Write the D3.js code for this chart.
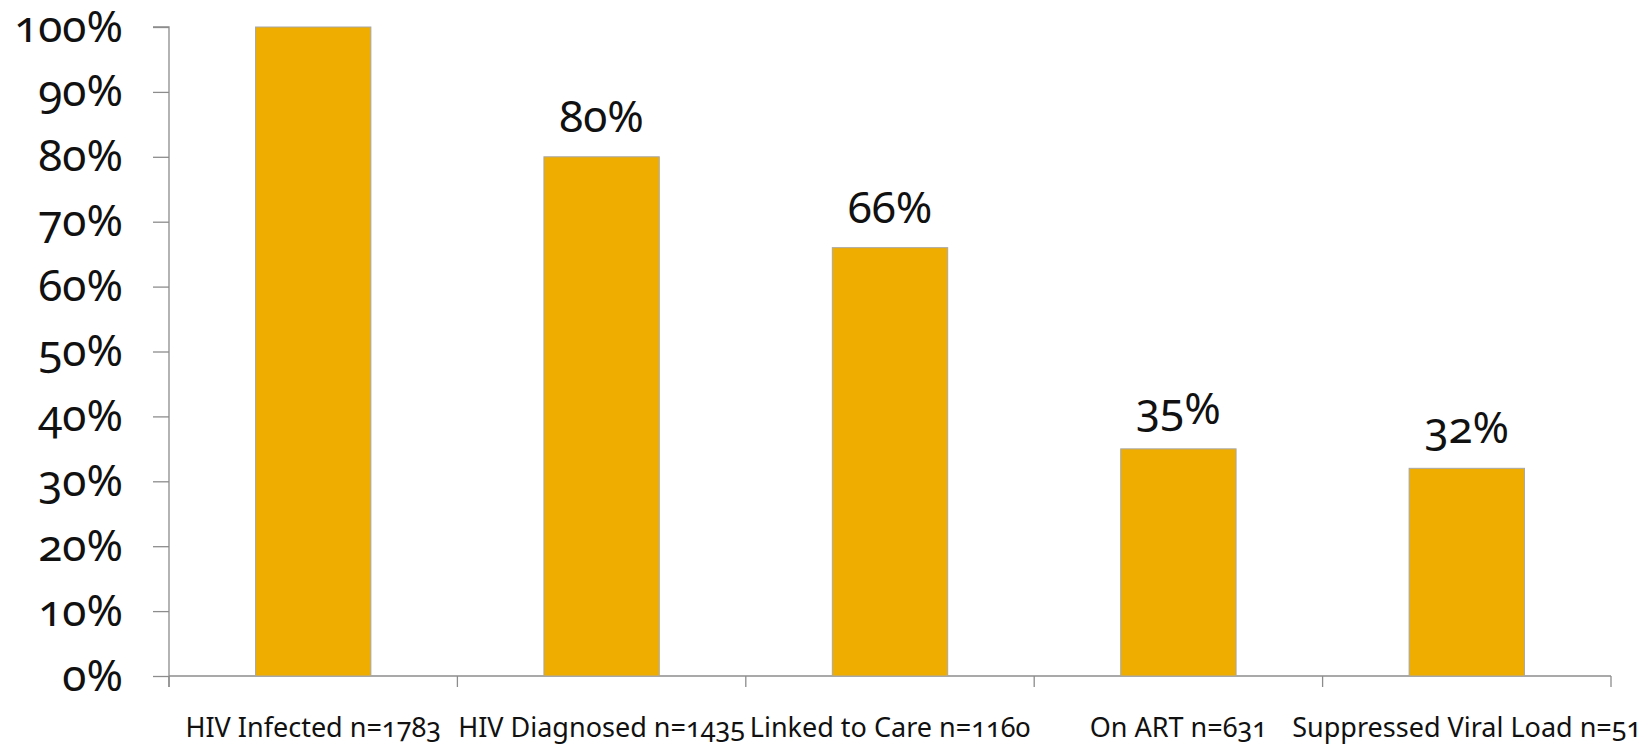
<!DOCTYPE html>
<html>
<head>
<meta charset="utf-8">
<script src="https://cdn.jsdelivr.net/npm/d3@7"></script>
<style>
  html, body { margin: 0; padding: 0; background: #fff; }
  svg { display: block; font-family: "Noto Sans", "Open Sans", sans-serif; font-feature-settings: "onum" 1; }
</style>
</head>
<body>
<svg id="chart" width="1649" height="744"></svg>
<script>
// HIV care cascade
const categories = ["HIV Infected n=1783", "HIV Diagnosed n=1435", "Linked to Care n=1160", "On ART n=631", "Suppressed Viral Load n=51"];
const shares = [1.00, 0.80, 0.66, 0.35, 0.32];
const labelled = [false, true, true, true, true];
const yTicks = [0, 0.1, 0.2, 0.3, 0.4, 0.5, 0.6, 0.7, 0.8, 0.9, 1.0];

const svg = d3.select("#chart");
const plotLeft = 169, plotRight = 1611, plotTop = 27, plotBottom = 676;
const fontStack = "'Noto Sans', 'Open Sans', sans-serif";

const x = d3.scaleBand().domain(categories).range([plotLeft, plotRight]).padding(0);
const y = d3.scaleLinear().domain([0, 1]).range([plotBottom, plotTop]);
const barW = x.bandwidth() * 0.4;
const axisColor = "#8c8c8c";

// value axis
const yAxis = svg.append("g")
  .attr("transform", `translate(${plotLeft},0)`)
  .call(d3.axisLeft(y).tickValues(yTicks).tickFormat(d3.format(".0%")).tickSize(16).tickPadding(30));
yAxis.attr("font-family", fontStack);
yAxis.select(".domain").attr("stroke", axisColor).attr("stroke-width", 1.3)
  .attr("d", `M-16,${plotTop}H0V${plotBottom + 11}`);
yAxis.selectAll(".tick line").attr("stroke", axisColor).attr("stroke-width", 1.3);
yAxis.selectAll(".tick text")
  .attr("fill", "#111").attr("font-size", 44).attr("dy", "0.32em");

// category axis
const xAxis = svg.append("g").attr("transform", `translate(0,${plotBottom})`);
xAxis.append("line").attr("x1", plotLeft).attr("x2", plotRight)
  .attr("stroke", axisColor).attr("stroke-width", 1.3);
const boundaries = categories.map(c => x(c)).concat([x(categories[categories.length - 1]) + x.bandwidth()]);
xAxis.selectAll("line.sep").data(boundaries).join("line")
  .attr("class", "sep")
  .attr("x1", d => d).attr("x2", d => d).attr("y1", 0).attr("y2", 11)
  .attr("stroke", axisColor).attr("stroke-width", 1.3);
xAxis.selectAll("text").data(categories).join("text")
  .attr("x", d => x(d) + x.bandwidth() / 2)
  .attr("y", 61)
  .attr("text-anchor", "middle")
  .attr("font-size", 27)
  .attr("fill", "#111")
  .text(d => d);

// bars
svg.append("g").selectAll("rect").data(categories).join("rect")
  .attr("x", d => x(d) + (x.bandwidth() - barW) / 2)
  .attr("y", (d, i) => y(shares[i]))
  .attr("width", barW)
  .attr("height", (d, i) => y(0) - y(shares[i]))
  .attr("fill", "#efad00")
  .attr("stroke", "#a8a8a8")
  .attr("stroke-width", 1);

// value labels
svg.append("g").selectAll("text").data(categories.filter((d, i) => labelled[i])).join("text")
  .attr("x", d => x(d) + x.bandwidth() / 2)
  .attr("y", d => y(shares[categories.indexOf(d)]) - 25)
  .attr("text-anchor", "middle")
  .attr("font-size", 44)
  .attr("fill", "#111")
  .text(d => d3.format(".0%")(shares[categories.indexOf(d)]));
</script>
</body>
</html>
